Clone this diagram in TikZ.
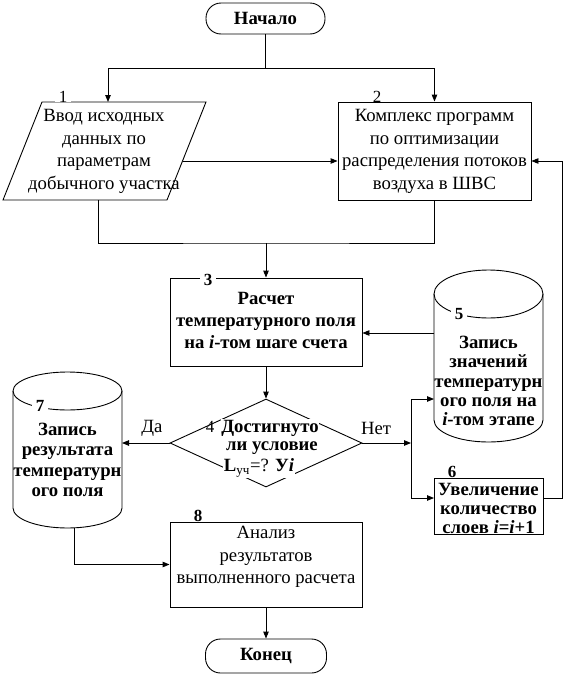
\documentclass[tikz,border=0pt]{standalone}
\usepackage{fontspec}
\setmainfont{Liberation Serif}
\usetikzlibrary{arrows.meta,shapes.geometric}
\begin{document}
\begin{tikzpicture}[x=1pt,y=-1pt,line width=0.9pt,
  arr/.style={-{Triangle[length=7pt,width=5.5pt]}},
  txt/.style={font=\fontsize{18.7}{22.5}\selectfont, align=center, inner sep=0pt},
  btxt/.style={font=\fontsize{18.7}{22}\selectfont\bfseries, align=center, inner sep=0pt},
  ctxt/.style={font=\fontsize{18.7}{19.2}\selectfont\bfseries, align=center, inner sep=0pt},
  num/.style={font=\fontsize{17}{17}\selectfont, fill=white, inner xsep=4pt, inner ysep=0pt},
  bnum/.style={font=\fontsize{17}{17}\selectfont\bfseries, fill=white, inner xsep=4pt, inner ysep=0pt},
  term/.style={draw, rectangle, rounded corners=15pt, inner sep=0pt},
  box/.style={draw, rectangle, inner sep=0pt},
  wline/.style={fill=white, inner sep=0.5pt}
]
\useasboundingbox (0,0) rectangle (567,675);

% terminals
\node[term, btxt, minimum width=119pt, minimum height=31pt] (start) at (265.5,18.5) {Начало};
\node[term, btxt, minimum width=121pt, minimum height=34pt] (end) at (266,656) {Конец};

% block 1: parallelogram
\coordinate (p1tl) at (42,102);
\coordinate (p1tr) at (206,102);
\coordinate (p1br) at (167,200);
\coordinate (p1bl) at (3,200);
\draw (p1tl) -- (p1tr) -- (p1br) -- (p1bl) -- cycle;
\node[txt] (t1) at (104,151.5) {Ввод исходных\\данных по\\параметрам\\добычного участка};
\node[num, anchor=south] (n1) at (63,102.5) {1};
\coordinate (p1r) at (182.5,161);
\coordinate (p1b) at (98,200);
\coordinate (p1t) at (108,102);

% block 2
\node[box, minimum width=193pt, minimum height=98pt] (b2) at (434.5,151) {};
\node[txt] (t2) at (434.5,151.5) {Комплекс программ\\по оптимизации\\распределения потоков\\воздуха в ШВС};
\node[num, anchor=south] (n2) at (377,102.5) {2};

% block 3
\node[box, minimum width=192pt, minimum height=88pt] (b3) at (266,322) {};
\node[btxt] (t3) at (266,320) {Расчет\\температурного поля\\на \textit{i}-том шаге счета};
\node[bnum] (n3) at (208,279.5) {3};

% block 4: decision
\node[draw, diamond, minimum width=192pt, minimum height=88pt, inner sep=0pt] (d4) at (266,443) {};
\node[wline, font=\fontsize{18.7}{20}\selectfont\bfseries] (t4a) at (270,428) {Достигнуто};
\node[wline, font=\fontsize{18.7}{20}\selectfont\bfseries] (t4b) at (272,448) {ли условие};
\node[wline, font=\fontsize{18.7}{20}\selectfont] (t4c) at (259,468) {\textbf{L}\textsubscript{уч}=? \textbf{У\textit{i}}};
\node[font=\fontsize{17}{17}\selectfont, inner sep=0pt] (n4) at (210,427) {4};
\node[font=\fontsize{18.7}{20}\selectfont, inner sep=0pt] (yes) at (152,428) {Да};
\node[font=\fontsize{18.7}{20}\selectfont, inner sep=0pt] (no) at (376,428) {Нет};

% block 5: cylinder
\draw (434,294) -- (434,420) arc[start angle=180, end angle=360, x radius=54.5pt, y radius=22pt] -- (543,294);
\draw (488.5,294) ellipse [x radius=54.5pt, y radius=24pt];
\node[ctxt] (t5) at (488.5,381) {Запись\\значений\\температурн\\ого поля на\\\textit{i}-том этапе};
\node[bnum] (n5) at (459,314) {5};
\coordinate (c5a) at (434,333);
\coordinate (c5l) at (434,399);

% block 6
\node[box, minimum width=109pt, minimum height=56pt] (b6) at (488.5,506) {};
\node[ctxt] (t6) at (488.5,508.5) {Увеличение\\количество\\слоев \textit{i}=\textit{i}+1};
\node[bnum, anchor=south] (n6) at (452,478.5) {6};
\coordinate (b6in) at (434,498);
\coordinate (b6out) at (543,498);

% block 7: cylinder
\draw (13,391) -- (13,508) arc[start angle=180, end angle=360, x radius=54.5pt, y radius=20pt] -- (122,391);
\draw (67.5,391) ellipse [x radius=54.5pt, y radius=19pt];
\node[ctxt, font=\fontsize{18.7}{20.5}\selectfont\bfseries] (t7) at (67.5,460) {Запись\\результата\\температурн\\ого поля};
\node[bnum] (n7) at (40,406) {7};
\coordinate (c7r) at (122,443);
\coordinate (c7b) at (74,528);

% block 8
\node[box, minimum width=192pt, minimum height=85pt] (b8) at (266,564.5) {};
\node[txt] (t8) at (266,557) {Анализ\\результатов\\выполненного расчета};
\node[bnum, anchor=south] (n8) at (198,522.5) {8};

% junctions
\coordinate (j0) at (265.5,68);
\coordinate (j1) at (266,243);
\coordinate (j2) at (411,443);
\coordinate (j3) at (562,161);

% connectors
\draw (start) -- (j0);
\draw[arr] (j0) -| (p1t);
\draw[arr] (j0) -| (b2.north);
\draw[arr] (p1r) -- (p1r -| b2.west);
\draw (p1b) |- (j1) -| (b2.south);
\draw[arr] (j1) -- (b3.north);
\draw[arr] (b3.south) -- (d4.north);
\draw[arr] (d4.west) -- (c7r);
\draw[arr] (d4.east) -- (j2);
\draw[arr] (j2) |- (c5l);
\draw[arr] (j2) |- (b6in);
\draw[arr] (c5a) -- (c5a -| b3.east);
\draw[arr] (b6out) -| (j3) -- (j3 -| b2.east);
\draw[arr] (c7b) |- (b8.west);
\draw[arr] (b8.south) -- (end.north);
\end{tikzpicture}
\end{document}
